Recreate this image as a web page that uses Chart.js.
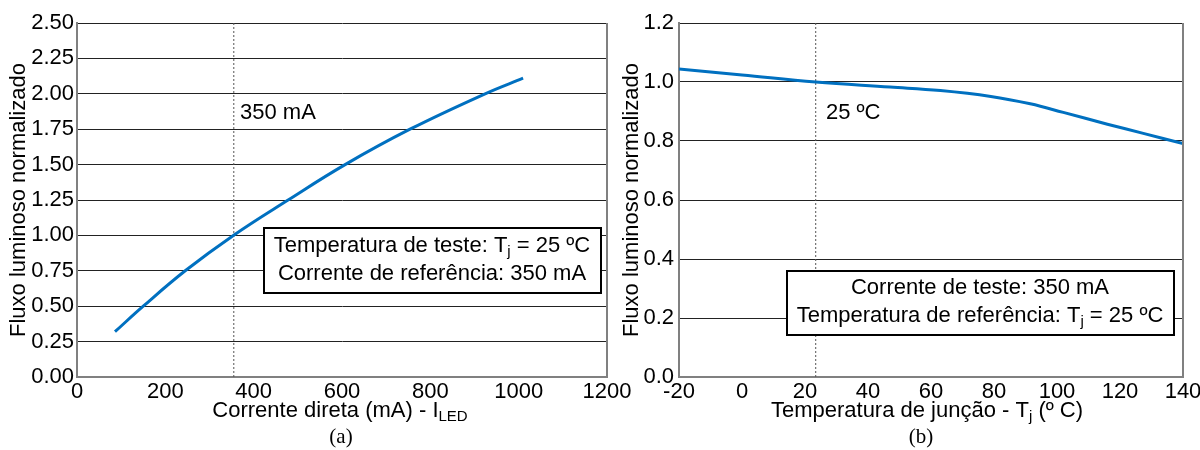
<!DOCTYPE html>
<html>
<head>
<meta charset="utf-8">
<script src="https://cdn.jsdelivr.net/npm/chart.js@4.4.0/dist/chart.umd.min.js"></script>
<style>
  html, body { margin: 0; padding: 0; background: #fff; }
  #wrap { position: relative; width: 1200px; height: 450px; overflow: hidden; }
  canvas { position: absolute; top: 0; }
  #cA { left: 0; }
  #cB { left: 600px; }
</style>
</head>
<body>
<div id="wrap">
  <canvas id="cA" width="640" height="450"></canvas>
  <canvas id="cB" width="600" height="450"></canvas>
</div>
<script>
// ---------- data ----------
const currentmA = [86, 150, 245, 354, 478, 607, 754, 924, 1010];
const fluxA     = [0.32, 0.50, 0.75, 1.00, 1.25, 1.50, 1.75, 2.00, 2.11];
const refCurrent = 355;

const tempC = [-20, 0, 23.4, 47, 63, 79, 91.5, 102, 116, 127.4, 140];
const fluxB = [1.044, 1.024, 1.000, 0.983, 0.971, 0.951, 0.926, 0.897, 0.857, 0.826, 0.791];
const refTemp = 23.4;

const leftXTicks  = [0, 200, 400, 600, 800, 1000, 1200];
const leftXLabels = ['0', '200', '400', '600', '800', '1000', '1200'];
const leftYTicks  = [0, 0.25, 0.5, 0.75, 1.0, 1.25, 1.5, 1.75, 2.0, 2.25, 2.5];
const leftYLabels = ['0.00','0.25','0.50','0.75','1.00','1.25','1.50','1.75','2.00','2.25','2.50'];

const rightXTicks  = [-20, 0, 20, 40, 60, 80, 100, 120, 140];
const rightXLabels = ['-20','0','20','40','60','80','100','120','140'];
const rightYTicks  = [0, 0.2, 0.4, 0.6, 0.8, 1.0, 1.2];
const rightYLabels = ['0.0','0.2','0.4','0.6','0.8','1.0','1.2'];

// ---------- helpers ----------
const FONT = "'Liberation Sans', Arial, sans-serif";
const FS = 22;
const SUB = 15;

function drawRich(ctx, parts, cx, cy, align) {
  ctx.save();
  ctx.textBaseline = 'middle';
  ctx.textAlign = 'left';
  let total = 0;
  const widths = parts.map(p => {
    ctx.font = (p.sub ? SUB : FS) + 'px ' + FONT;
    const w = ctx.measureText(p.t).width;
    total += w;
    return w;
  });
  let x = align === 'left' ? cx : cx - total / 2;
  parts.forEach((p, i) => {
    ctx.font = (p.sub ? SUB : FS) + 'px ' + FONT;
    ctx.fillStyle = '#000';
    ctx.fillText(p.t, x, p.sub ? cy + 6 : cy);
    x += widths[i];
  });
  ctx.restore();
}

const decorPlugin = {
  id: 'decor',
  afterDraw(chart, args, opts) {
    const ctx = chart.ctx;
    const a = chart.chartArea;
    ctx.save();
    ctx.strokeStyle = '#808080';
    ctx.lineWidth = 2;
    ctx.beginPath();
    ctx.moveTo(a.right, a.top);
    ctx.lineTo(a.right, a.bottom);
    ctx.stroke();
    ctx.restore();
    if (opts.box) {
      const b = opts.box;
      ctx.save();
      ctx.fillStyle = '#fff';
      ctx.fillRect(b[0], b[1], b[2], b[3]);
      ctx.strokeStyle = '#000';
      ctx.lineWidth = 2;
      ctx.strokeRect(b[0], b[1], b[2], b[3]);
      ctx.restore();
    }
    (opts.texts || []).forEach(t => drawRich(ctx, t.parts, t.x, t.y, t.align));
    if (opts.yTitle) {
      ctx.save();
      ctx.translate(opts.yTitle.x, opts.yTitle.y);
      ctx.rotate(-Math.PI / 2);
      ctx.font = FS + 'px ' + FONT;
      ctx.fillStyle = '#000';
      ctx.textAlign = 'center';
      ctx.textBaseline = 'middle';
      ctx.fillText(opts.yTitle.t, 0, 0);
      ctx.restore();
    }
    if (opts.caption) {
      ctx.save();
      ctx.font = "21px 'Liberation Serif', 'Times New Roman', serif";
      ctx.fillStyle = '#000';
      ctx.textAlign = 'center';
      ctx.textBaseline = 'middle';
      ctx.fillText(opts.caption.t, opts.caption.x, opts.caption.y);
      ctx.restore();
    }
  }
};

function makeScales(xTicks, xLabels, yTicks, yLabels, xMin, xMax, yMin, yMax, yWidth, xHeight, yPad) {
  return {
    x: {
      type: 'linear', min: xMin, max: xMax,
      afterBuildTicks: s => { s.ticks = xTicks.map(v => ({ value: v })); },
      afterFit: s => { s.height = xHeight; s.paddingLeft = 0; s.paddingRight = 0; },
      ticks: {
        autoSkip: false, maxRotation: 0, padding: 2, color: '#000',
        font: { family: FONT, size: FS },
        callback: (v, i) => xLabels[i]
      },
      grid: { display: false, drawTicks: false },
      border: { display: true, color: '#808080', width: 2 }
    },
    y: {
      type: 'linear', min: yMin, max: yMax,
      afterBuildTicks: s => { s.ticks = yTicks.map(v => ({ value: v })); },
      afterFit: s => { s.width = yWidth; s.paddingTop = 0; s.paddingBottom = 0; },
      ticks: {
        autoSkip: false, padding: yPad, color: '#000',
        font: { family: FONT, size: FS },
        callback: (v, i) => yLabels[i]
      },
      grid: { color: '#222', lineWidth: 1, drawTicks: false },
      border: { display: true, color: '#808080', width: 2 }
    }
  };
}

// ---------- chart (a) ----------
new Chart(document.getElementById('cA'), {
  type: 'scatter',
  data: {
    datasets: [
      {
        data: [{ x: refCurrent, y: leftYTicks[0] }, { x: refCurrent, y: leftYTicks[leftYTicks.length - 1] }],
        showLine: true, borderColor: '#555', borderWidth: 1, borderDash: [2, 2],
        pointRadius: 0, order: 2
      },
      {
        data: currentmA.map((x, i) => ({ x, y: fluxA[i] })),
        showLine: true, borderColor: '#0070C0', borderWidth: 3,
        tension: 0.4, pointRadius: 0, order: 1
      }
    ]
  },
  options: {
    responsive: false, animation: false,
    layout: { padding: { left: 0, top: 23, right: 33, bottom: 0 } },
    plugins: {
      legend: { display: false }, tooltip: { enabled: false },
      decor: {
        box: [264, 228, 337, 65],
        texts: [
          { parts: [{ t: '350 mA' }], x: 240, y: 113, align: 'left' },
          { parts: [{ t: 'Temperatura de teste: T' }, { t: 'j', sub: true }, { t: ' = 25 ºC' }], x: 432, y: 246 },
          { parts: [{ t: 'Corrente de referência: 350 mA' }], x: 432, y: 274 },
          { parts: [{ t: 'Corrente direta (mA) - I' }, { t: 'LED', sub: true }], x: 340, y: 411 }
        ],
        yTitle: { t: 'Fluxo luminoso normalizado', x: 19, y: 200 },
        caption: { t: '(a)', x: 341, y: 437 }
      }
    },
    scales: makeScales(leftXTicks, leftXLabels, leftYTicks, leftYLabels, 0, 1200, 0, 2.5, 77, 73, 3)
  },
  plugins: [decorPlugin]
});

// ---------- chart (b) ----------
new Chart(document.getElementById('cB'), {
  type: 'scatter',
  data: {
    datasets: [
      {
        data: [{ x: refTemp, y: rightYTicks[0] }, { x: refTemp, y: rightYTicks[rightYTicks.length - 1] }],
        showLine: true, borderColor: '#555', borderWidth: 1, borderDash: [2, 2],
        pointRadius: 0, order: 2
      },
      {
        data: tempC.map((x, i) => ({ x, y: fluxB[i] })),
        showLine: true, borderColor: '#0070C0', borderWidth: 3,
        tension: 0.4, pointRadius: 0, order: 1
      }
    ]
  },
  options: {
    responsive: false, animation: false,
    layout: { padding: { left: 0, top: 23, right: 17, bottom: 0 } },
    plugins: {
      legend: { display: false }, tooltip: { enabled: false },
      decor: {
        box: [187, 271, 387, 64],
        texts: [
          { parts: [{ t: '25 ºC' }], x: 226, y: 113, align: 'left' },
          { parts: [{ t: 'Corrente de teste: 350 mA' }], x: 380, y: 288 },
          { parts: [{ t: 'Temperatura de referência: T' }, { t: 'j', sub: true }, { t: ' = 25 ºC' }], x: 380, y: 316 },
          { parts: [{ t: 'Temperatura de junção - T' }, { t: 'j', sub: true }, { t: ' (º C)' }], x: 327, y: 411 }
        ],
        yTitle: { t: 'Fluxo luminoso normalizado', x: 32, y: 200 },
        caption: { t: '(b)', x: 321, y: 437 }
      }
    },
    scales: makeScales(rightXTicks, rightXLabels, rightYTicks, rightYLabels, -20, 140, 0, 1.2, 79, 73, 5)
  },
  plugins: [decorPlugin]
});
</script>
</body>
</html>
